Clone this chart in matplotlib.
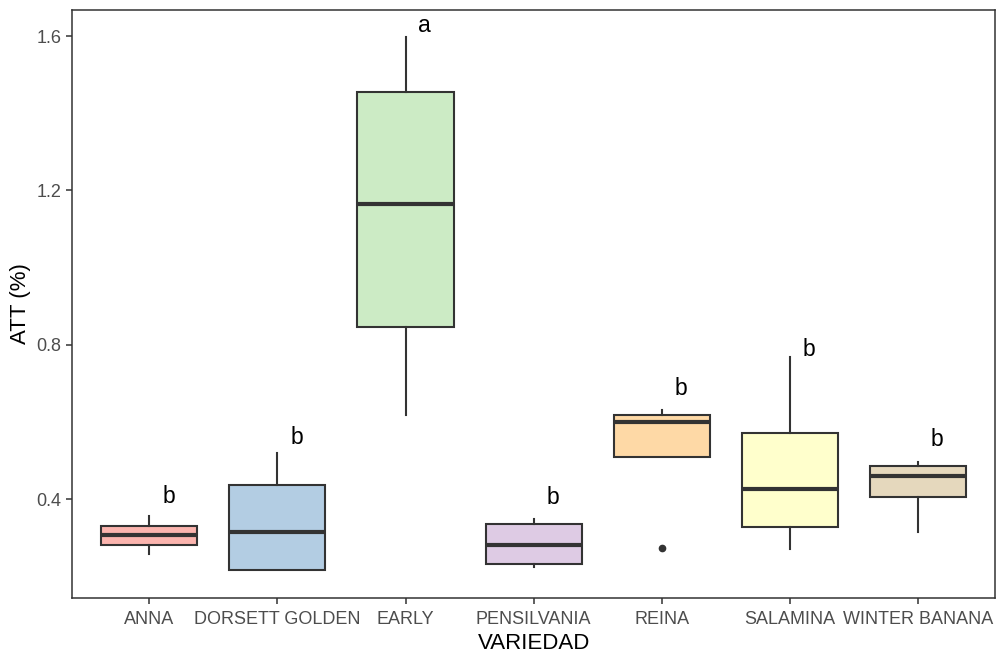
import matplotlib
matplotlib.use("Agg")
import matplotlib.pyplot as plt

plt.rcParams['font.family'] = ['Liberation Sans', 'DejaVu Sans']

# values
variedades = ["ANNA", "DORSETT GOLDEN", "EARLY", "PENSILVANIA", "REINA", "SALAMINA", "WINTER BANANA"]
whisker_low = [0.257, 0.216, 0.618, 0.223, 0.510, 0.271, 0.314]
q1 = [0.280, 0.216, 0.847, 0.231, 0.510, 0.328, 0.406]
median = [0.306, 0.314, 1.164, 0.281, 0.600, 0.426, 0.460]
q3 = [0.330, 0.436, 1.455, 0.335, 0.618, 0.571, 0.486]
whisker_high = [0.356, 0.519, 1.597, 0.348, 0.631, 0.768, 0.497]
outliers = [[], [], [], [], [0.273], [], []]
letras = ["b", "b", "a", "b", "b", "b", "b"]
letra_y = [0.413, 0.566, 1.634, 0.410, 0.694, 0.795, 0.562]

colores = ["#FBB4AE", "#B3CDE3", "#CCEBC5", "#DECBE4", "#FED9A6", "#FFFFCC", "#E5D8BD"]
gris = "#333333"

fig = plt.figure(figsize=(10.06, 6.64), dpi=100)
ax = fig.add_axes([0.0719, 0.0998, 0.9172, 0.8847])

stats = []
for i in range(len(variedades)):
    stats.append(dict(whislo=whisker_low[i], q1=q1[i], med=median[i], q3=q3[i],
                      whishi=whisker_high[i], fliers=outliers[i], label=variedades[i]))

pos = list(range(1, len(variedades) + 1))
bp = ax.bxp(stats, positions=pos, widths=0.75, patch_artist=True, showcaps=False,
            boxprops=dict(edgecolor=gris, linewidth=1.5),
            whiskerprops=dict(color=gris, linewidth=1.5),
            medianprops=dict(color=gris, linewidth=3.0, solid_capstyle='butt'),
            flierprops=dict(marker='o', markerfacecolor=gris, markeredgecolor=gris, markersize=4.5))
for patch, c in zip(bp['boxes'], colores):
    patch.set_facecolor(c)

for p, l, y in zip(pos, letras, letra_y):
    ax.text(p + 0.15, y, l, ha='center', va='center_baseline', fontsize=16.5, color='black')

ax.set_xlim(0.4, 7.6)
ax.set_ylim(0.1442, 1.6667)
ax.set_yticks([0.4, 0.8, 1.2, 1.6])
ax.set_yticklabels(["0.4", "0.8", "1.2", "1.6"])
ax.set_xticks(pos)
ax.set_xticklabels(variedades)

for s in ax.spines.values():
    s.set_color(gris)
    s.set_linewidth(1.1)
ax.tick_params(colors=gris, length=4.5, width=1.1, labelsize=13, labelcolor="#4D4D4D", pad=3.5)
ax.tick_params(axis='x', pad=5)

ax.set_xlabel("VARIEDAD", fontsize=16, color='black', labelpad=4)
ax.set_ylabel("ATT (%)", fontsize=16, color='black', labelpad=4)

fig.savefig("out.png", dpi=100)
